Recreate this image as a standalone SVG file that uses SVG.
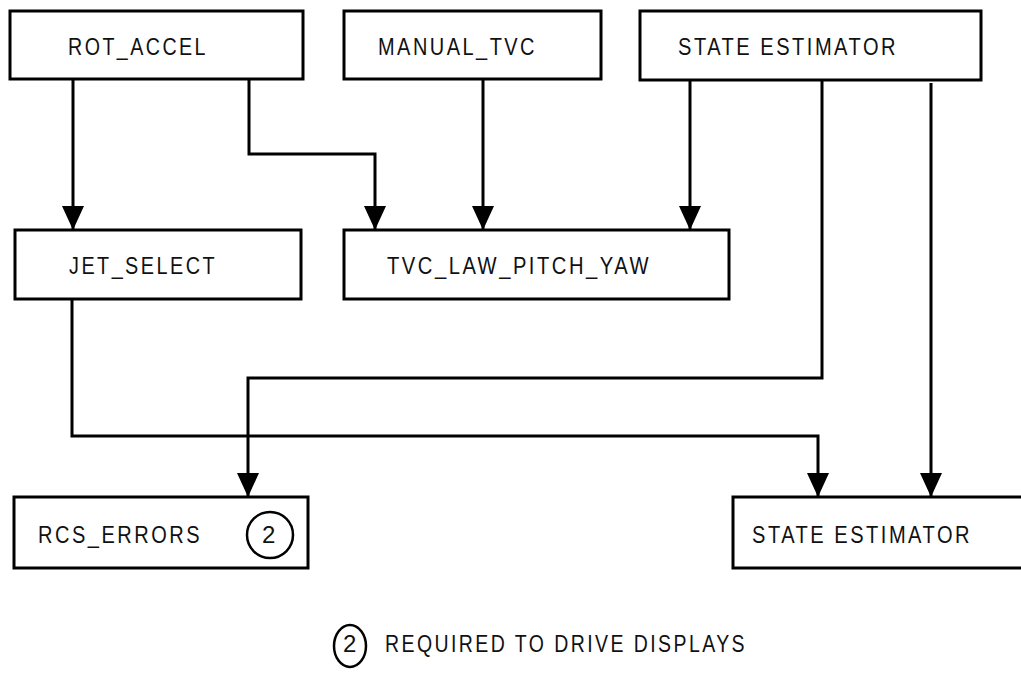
<svg xmlns="http://www.w3.org/2000/svg" width="1021" height="679" viewBox="0 0 1021 679">
<style>
.box{fill:#fff;stroke:#000;stroke-width:3}
.t{font-family:"Liberation Sans",Arial,sans-serif;font-size:24px;fill:#111;letter-spacing:3px}
.c{fill:none;stroke:#000;stroke-width:2.5}
.w{fill:none;stroke:#000;stroke-width:3}
</style>
<defs>
<marker id="ah" markerUnits="userSpaceOnUse" markerWidth="24" markerHeight="22" refX="24" refY="11" orient="auto" viewBox="0 0 24 22">
<path d="M0,0 L24,11 L0,22 Z" fill="#000"/>
</marker>
</defs>
<rect width="1021" height="679" fill="#fff"/>
<g id="connectors">
<path class="w" d="M73,79 V230" marker-end="url(#ah)"/>
<path class="w" d="M249,79 V154 H375 V230" marker-end="url(#ah)"/>
<path class="w" d="M483,79 V230" marker-end="url(#ah)"/>
<path class="w" d="M690,80 V230" marker-end="url(#ah)"/>
<path class="w" d="M822,80 V378 H248 V497" marker-end="url(#ah)"/>
<path class="w" d="M72,299 V436 H818 V497" marker-end="url(#ah)"/>
<path class="w" d="M931,83 V497" marker-end="url(#ah)"/>
</g>
<g id="rot_accel">
<rect class="box" x="10" y="11" width="293" height="68"/>
<text class="t" x="68" y="55" textLength="140" lengthAdjust="spacingAndGlyphs">ROT_ACCEL</text>
</g>
<g id="manual_tvc">
<rect class="box" x="344" y="11" width="257" height="68"/>
<text class="t" x="378" y="55" textLength="159" lengthAdjust="spacingAndGlyphs">MANUAL_TVC</text>
</g>
<g id="state_estimator_top">
<rect class="box" x="640" y="11" width="341" height="69"/>
<text class="t" x="678" y="55" textLength="220" lengthAdjust="spacingAndGlyphs">STATE ESTIMATOR</text>
</g>
<g id="jet_select">
<rect class="box" x="15" y="230" width="286" height="69"/>
<text class="t" x="69" y="274" textLength="148" lengthAdjust="spacingAndGlyphs">JET_SELECT</text>
</g>
<g id="tvc_law_pitch_yaw">
<rect class="box" x="344" y="230" width="385" height="69"/>
<text class="t" x="387" y="274" textLength="264" lengthAdjust="spacingAndGlyphs">TVC_LAW_PITCH_YAW</text>
</g>
<g id="rcs_errors">
<rect class="box" x="14" y="497" width="294" height="71"/>
<text class="t" x="38" y="543" textLength="164" lengthAdjust="spacingAndGlyphs">RCS_ERRORS</text>
<ellipse class="c" cx="270" cy="535" rx="23" ry="23"/>
<text class="t" x="262" y="543" style="letter-spacing:0">2</text>
</g>
<g id="state_estimator_bottom">
<rect class="box" x="733" y="497" width="300" height="71"/>
<text class="t" x="752" y="543" textLength="220" lengthAdjust="spacingAndGlyphs">STATE ESTIMATOR</text>
</g>
<g id="legend">
<ellipse class="c" cx="350" cy="646" rx="16" ry="21"/>
<text class="t" x="343" y="652" style="letter-spacing:0">2</text>
<text class="t" x="385" y="652" textLength="362" lengthAdjust="spacingAndGlyphs">REQUIRED TO DRIVE DISPLAYS</text>
</g>
</svg>
